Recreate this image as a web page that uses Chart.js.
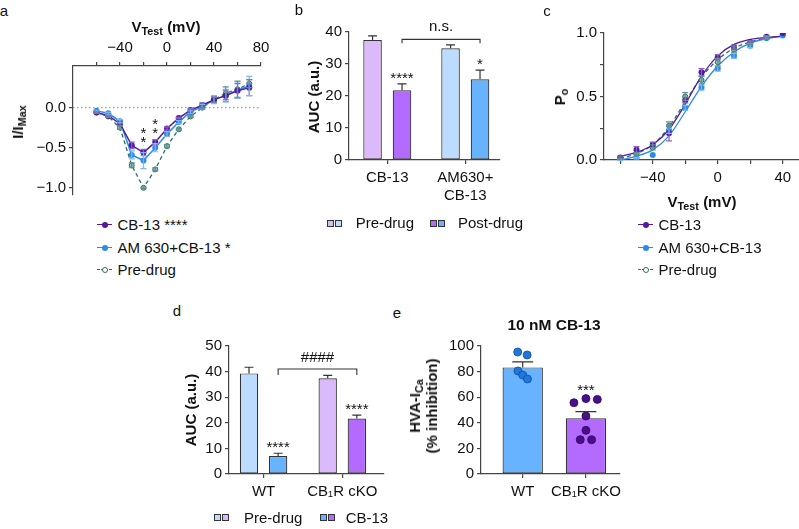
<!DOCTYPE html>
<html>
<head>
<meta charset="utf-8">
<script src="https://cdn.jsdelivr.net/npm/chart.js@4.4.1/dist/chart.umd.min.js"></script>
<style>
  body { margin: 0; background: #fff; }
  #fig { position: relative; width: 799px; height: 529px; overflow: hidden;
         font-family: "Liberation Sans", Arial, sans-serif; color: #111; }
  canvas { position: absolute; }
  .t { position: absolute; white-space: nowrap; font-size: 15px; line-height: 18px;
       transform: translate(-50%, -50%); }
  .b { font-weight: bold; }
  .rot { transform: translate(-50%, -50%) rotate(-90deg); text-align: center; }
  .l { position: absolute; white-space: nowrap; font-size: 15px; line-height: 18px; }
  sub { font-size: 0.72em; vertical-align: -0.3em; line-height: 0; }
  .sq { position: absolute; width: 7px; height: 7px; box-sizing: border-box; border: 1px solid #333; }
</style>
</head>
<body>
<div id="fig">
  <canvas id="ca"></canvas>
  <canvas id="cb"></canvas>
  <canvas id="cc"></canvas>
  <canvas id="cd"></canvas>
  <canvas id="ce"></canvas>

  <!-- panel letters -->
  <div class="t" style="left:4px;top:11px">a</div>
  <div class="t" style="left:299px;top:10px">b</div>
  <div class="t" style="left:547px;top:11px">c</div>
  <div class="t" style="left:177px;top:311px">d</div>
  <div class="t" style="left:397px;top:313px">e</div>

  <!-- axis titles -->
  <div class="t b" style="left:166px;top:27px">V<sub>Test</sub> (mV)</div>
  <div class="t b rot" style="left:18px;top:122px">I/I<sub>Max</sub></div>
  <div class="t b rot" style="left:314px;top:97px">AUC (a.u.)</div>
  <div class="t b rot" style="left:560px;top:97px">P<sub>o</sub></div>
  <div class="t b" style="left:702px;top:202px">V<sub>Test</sub> (mV)</div>
  <div class="t b rot" style="left:191px;top:410px">AUC (a.u.)</div>
  <div class="t b rot" style="left:423px;top:406px;line-height:17px">HVA-I<sub>Ca</sub><br>(% inhibition)</div>
  <div class="t b" style="left:554px;top:325px;font-size:15.5px">10 nM CB-13</div>

  <div id="legends"></div>
</div>

<script>
// ---- data ----
const vTestA = [-60, -50, -40, -30, -20, -10, 0, 10, 20, 30, 40, 50, 60, 70];
const ivCB13 = [-0.06, -0.10, -0.20, -0.47, -0.56, -0.43, -0.26, -0.13, -0.03, 0.03, 0.10, 0.15, 0.21, 0.25];
const ivCB13Err = [0.01, 0.01, 0.02, 0.04, 0.04, 0.03, 0.02, 0.01, 0.02, 0.03, 0.04, 0.07, 0.09, 0.10];
const ivAM = [-0.04, -0.07, -0.17, -0.59, -0.66, -0.50, -0.33, -0.18, -0.05, 0.01, 0.10, 0.15, 0.22, 0.27];
const ivAMErr = [0.01, 0.01, 0.02, 0.05, 0.10, 0.05, 0.03, 0.02, 0.02, 0.03, 0.05, 0.08, 0.10, 0.12];
const ivPre = [-0.06, -0.11, -0.25, -0.72, -1.00, -0.77, -0.48, -0.27, -0.11, 0.00, 0.10, 0.18, 0.23, 0.30];
const ivPreErr = [0.01, 0.01, 0.02, 0.03, 0.01, 0.02, 0.02, 0.01, 0.01, 0.02, 0.03, 0.08, 0.10, 0.05];
const ivStars = ['', '', '', '', '*\n*', '*\n*', '', '', '', '', '', '', '', ''];
const aXTicks = [-60, -40, -20, 0, 20, 40, 60, 80];
const aXLabels = [-40, 0, 40, 80];
const aYTicks = [-1.0, -0.5, 0.0];

const bCats = ['CB-13', ['AM630+', 'CB-13']];
const bPre = [37.5, 34.9];
const bPreErr = [1.3, 1.1];
const bPost = [21.8, 25.2];
const bPostErr = [2.0, 2.9];
const bStars = ['****', '*'];
const bYTicks = [0, 10, 20, 30, 40];

const vTestC = [-60, -50, -40, -30, -20, -10, 0, 10, 20, 30, 40];
const poCB13 = [0.02, 0.08, 0.12, 0.21, 0.47, 0.69, 0.81, 0.89, 0.93, 0.97, 1.00];
const poCB13Err = [0.01, 0.025, 0.02, 0.06, 0.02, 0.03, 0.02, 0.015, 0.01, 0.01, 0];
const poAM = [0.00, 0.015, 0.04, 0.23, 0.41, 0.57, 0.72, 0.82, 0.90, 0.96, 0.98];
const poAMErr = [0.005, 0.005, 0, 0.02, 0.02, 0.02, 0.02, 0.02, 0.015, 0.01, 0];
const poPre = [0.01, 0.05, 0.10, 0.27, 0.50, 0.63, 0.77, 0.87, 0.92, 0.96, 0.99];
const poPreErr = [0.005, 0.01, 0.02, 0.03, 0.03, 0.03, 0.03, 0.02, 0.01, 0.01, 0];
const fitCB13 = [0.03, 0.06, 0.12, 0.24, 0.44, 0.66, 0.82, 0.91, 0.95, 0.965, 0.975];
const fitAM = [0.00, 0.03, 0.08, 0.19, 0.38, 0.58, 0.74, 0.85, 0.92, 0.955, 0.975];
const fitPre = [0.01, 0.05, 0.12, 0.26, 0.46, 0.65, 0.79, 0.88, 0.93, 0.96, 0.975];
const cXTicks = [-60, -40, -20, 0, 20, 40];
const cXLabels = [-40, 0, 40];
const cYTicks = [0, 0.25, 0.5, 0.75, 1.0];
const cYLabels = [0, 0.5, 1.0];

const dCats = ['WT', 'CB\u2081R cKO'];
const dPre = [39.3, 37.4];
const dPreErr = [2.4, 1.1];
const dDrug = [7.0, 21.7];
const dDrugErr = [1.1, 1.3];
const dStars = ['****', '****'];
const dYTicks = [0, 10, 20, 30, 40, 50];

const eCats = ['WT', 'CB\u2081R cKO'];
const eMean = [83.3, 43.5];
const eErr = [4.3, 5.2];
const eWTDots = [95.3, 93.0, 80.5, 77.3, 74.2];
const eWTJitter = [-0.08, 0.07, -0.075, 0.0, 0.075];
const eKODots = [55.7, 58.9, 58.3, 45.3, 34.1, 26.8, 26.8];
const eKOJitter = [-0.19, 0.0, 0.18, 0.0, 0.0, -0.09, 0.09];
const eYTicks = [0, 20, 40, 60, 80, 100];

// ---- style ----
const C = {
  ink: '#111', axis: '#444',
  purpleLine: '#50199e', purpleErr: '#8b62c8',
  blueLine: '#2b8be8', blueErr: '#7ab8f2',
  teal: '#2e6d68', tealErr: '#5f918c', tealFill: '#8fbcb7',
  lightPurple: '#dcb9fb', purple: '#b36bff',
  lightBlue: '#bbdcff', blue: '#67b3ff',
  wtDot: '#1f77dc', koDot: '#4b0d8c', barEdge: '#333'
};
const Y_W = 60, X_H = 50, PAD = 14;
const tickFont = { family: '"Liberation Sans", Arial, sans-serif', size: 15 };
const minus = v => (v < 0 ? '\u2212' : '') + Math.abs(v);

function place(id, L, T, R, B, xTop) {
  const c = document.getElementById(id);
  const w = Math.round((R - L) + Y_W + PAD);
  const h = Math.round((B - T) + X_H + 2 * PAD);
  c.width = w; c.height = h;
  c.style.width = w + 'px'; c.style.height = h + 'px';
  c.style.left = (L - Y_W) + 'px';
  c.style.top = (xTop ? T - PAD - X_H : T - PAD) + 'px';
  return c;
}

function axisBase(ticks, label) {
  return {
    type: 'linear', bounds: 'data',
    afterBuildTicks: s => { s.ticks = ticks.map(v => ({ value: v })); },
    ticks: { font: tickFont, color: C.ink, autoSkip: false, maxRotation: 0, callback: label },
    grid: { drawOnChartArea: false, drawTicks: true, tickLength: 4, color: C.axis, lineWidth: 1.2, offset: false },
    border: { color: C.axis, width: 1.2 }
  };
}
function yAxis(min, max, ticks, label) {
  const a = axisBase(ticks, label);
  a.min = min; a.max = max;
  a.ticks.padding = 3;
  a.afterFit = s => { s.width = Y_W; };
  return a;
}
function xAxis(min, max, ticks, label, pos) {
  const a = axisBase(ticks, label);
  a.min = min; a.max = max; a.offset = false;
  a.position = pos || 'bottom';
  a.ticks.padding = 5;
  a.afterFit = s => { s.height = X_H; };
  return a;
}

// error bars, significance marks, brackets, zero line
const decor = {
  id: 'decor',
  beforeDatasetsDraw(chart, args, opts) {
    if (!opts.zeroLine) return;
    const ctx = chart.ctx, a = chart.chartArea;
    const y = chart.scales.y.getPixelForValue(0);
    ctx.save();
    ctx.strokeStyle = '#8a8a8a'; ctx.lineWidth = 1; ctx.setLineDash([1.5, 2.5]);
    ctx.beginPath(); ctx.moveTo(a.left, y); ctx.lineTo(a.right, y); ctx.stroke();
    ctx.restore();
  },
  afterDatasetsDraw(chart, args, opts) {
    const ctx = chart.ctx, ys = chart.scales.y;
    ctx.save();
    chart.data.datasets.forEach((ds, di) => {
      const meta = chart.getDatasetMeta(di);
      meta.data.forEach((el, i) => {
        const v = ds.data[i].y;
        const e = ds.errors ? ds.errors[i] : 0;
        if (e) {
          const top = ys.getPixelForValue(v + e);
          const bot = ds.errUp ? el.y : ys.getPixelForValue(v - e);
          const cw = (ds.capWidth || 6) / 2;
          ctx.strokeStyle = ds.errColor || C.barEdge;
          ctx.lineWidth = 1.2;
          ctx.beginPath();
          ctx.moveTo(el.x, top); ctx.lineTo(el.x, bot);
          ctx.moveTo(el.x - cw, top); ctx.lineTo(el.x + cw, top);
          if (!ds.errUp) { ctx.moveTo(el.x - cw, bot); ctx.lineTo(el.x + cw, bot); }
          ctx.stroke();
        }
        if (ds.sig && ds.sig[i]) {
          let base = v + (e || 0);
          if (ds.sigFloor && ds.sigFloor[i] != null) base = Math.max(base, ds.sigFloor[i]);
          let yb = ys.getPixelForValue(base) - (ds.sigGap != null ? ds.sigGap : 1);
          ctx.fillStyle = C.ink;
          ctx.font = '15px "Liberation Sans", Arial, sans-serif';
          ctx.textAlign = 'center'; ctx.textBaseline = 'alphabetic';
          ds.sig[i].split('\n').reverse().forEach(line => {
            ctx.fillText(line, el.x, yb);
            yb -= 9;
          });
        }
      });
    });
    (opts.brackets || []).forEach(b => {
      const x1 = chart.getDatasetMeta(b.from[0]).data[b.from[1]].x;
      const x2 = chart.getDatasetMeta(b.to[0]).data[b.to[1]].x;
      const y = ys.getPixelForValue(b.value);
      ctx.strokeStyle = C.barEdge; ctx.lineWidth = 1.1;
      ctx.beginPath();
      ctx.moveTo(x1, y + b.drop); ctx.lineTo(x1, y); ctx.lineTo(x2, y); ctx.lineTo(x2, y + b.drop);
      ctx.stroke();
      ctx.fillStyle = C.ink;
      ctx.font = '15px "Liberation Sans", Arial, sans-serif';
      ctx.textAlign = 'center'; ctx.textBaseline = 'alphabetic';
      ctx.fillText(b.text, (x1 + x2) / 2, y - b.gap);
    });
    ctx.restore();
  }
};
Chart.register(decor);

const base = {
  responsive: false, animation: false, devicePixelRatio: 1,
  layout: { padding: { top: PAD, right: PAD, bottom: PAD, left: 0 } },
  plugins: { legend: { display: false }, tooltip: { enabled: false } }
};
const pts = (xs, ys) => xs.map((x, i) => ({ x, y: ys[i] }));

// ---- a: I-V ----
new Chart(place('ca', 72.5, 66, 260, 195, true), {
  type: 'line',
  data: { datasets: [
    { data: pts(vTestA, ivCB13), errors: ivCB13Err, errColor: C.purpleErr, sig: ivStars, sigGap: 2,
      borderColor: C.purpleLine, backgroundColor: C.purpleLine, borderWidth: 1.5,
      pointRadius: 3, pointBorderWidth: 0 },
    { data: pts(vTestA, ivAM), errors: ivAMErr, errColor: C.blueErr,
      borderColor: C.blueLine, backgroundColor: C.blueLine, borderWidth: 1.5,
      pointRadius: 3, pointBorderWidth: 0 },
    { data: pts(vTestA, ivPre), errors: ivPreErr, errColor: C.tealErr,
      borderColor: C.teal, backgroundColor: C.tealFill, borderWidth: 1.3, borderDash: [4, 3],
      pointRadius: 2.5, pointBorderWidth: 1, pointBorderColor: C.teal }
  ] },
  options: Object.assign({}, base, {
    scales: {
      x: xAxis(-80, 80, aXTicks, v => aXLabels.includes(v) ? minus(v) : '', 'top'),
      y: yAxis(-1.09, 0.52, aYTicks, v => (v < 0 ? '\u2212' : '') + Math.abs(v).toFixed(1))
    },
    plugins: Object.assign({}, base.plugins, { decor: { zeroLine: true } })
  })
});

// ---- b: AUC bars ----
new Chart(place('cb', 349, 32, 500, 160), {
  type: 'bar',
  data: { datasets: [
    { label: 'Pre-drug', data: pts([1, 2], bPre), errors: bPreErr, errUp: true, capWidth: 9,
      backgroundColor: [C.lightPurple, C.lightBlue] },
    { label: 'Post-drug', data: pts([1, 2], bPost), errors: bPostErr, errUp: true, capWidth: 9,
      sig: bStars, sigGap: 1, backgroundColor: [C.purple, C.blue] }
  ].map(d => Object.assign(d, { borderColor: C.barEdge, borderWidth: 1.2, borderSkipped: false,
      categoryPercentage: 0.756, barPercentage: 0.63 })) },
  options: Object.assign({}, base, {
    scales: {
      x: xAxis(0.509, 2.445, [1, 2], v => bCats[Math.round(v) - 1]),
      y: yAxis(0, 40, bYTicks, v => v)
    },
    plugins: Object.assign({}, base.plugins, { decor: {
      brackets: [{ from: [1, 0], to: [1, 1], value: 37.7, drop: 4, text: 'n.s.', gap: 8.7 }] } })
  })
});

// ---- c: Po ----
const fitLine = (xs, ys, col, dash) => ({
  data: pts(xs, ys), borderColor: col, borderWidth: 1.3, borderDash: dash || [],
  pointRadius: 0, tension: 0.4, cubicInterpolationMode: 'monotone'
});
new Chart(place('cc', 604, 32.7, 799, 160), {
  type: 'line',
  data: { datasets: [
    { data: pts(vTestC, poCB13), errors: poCB13Err, errColor: C.purpleErr, showLine: false,
      backgroundColor: C.purpleLine, pointRadius: 3, pointBorderWidth: 0 },
    { data: pts(vTestC, poAM), errors: poAMErr, errColor: C.blueErr, showLine: false,
      backgroundColor: C.blueLine, pointRadius: 3, pointBorderWidth: 0 },
    { data: pts(vTestC, poPre), errors: poPreErr, errColor: C.tealErr, showLine: false,
      backgroundColor: C.tealFill, pointBorderColor: C.teal, pointRadius: 2.5, pointBorderWidth: 1 },
    fitLine(vTestC, fitCB13, C.purpleLine),
    fitLine(vTestC, fitAM, C.blueLine),
    fitLine(vTestC, fitPre, C.teal, [4, 3])
  ] },
  options: Object.assign({}, base, {
    scales: {
      x: xAxis(-70, 50, cXTicks, v => cXLabels.includes(v) ? minus(v) : ''),
      y: yAxis(0, 1, cYTicks, v => cYLabels.includes(v) ? v.toFixed(1) : '')
    }
  })
});

// ---- d: AUC WT vs cKO ----
new Chart(place('cd', 229.3, 346, 384, 474), {
  type: 'bar',
  data: { datasets: [
    { label: 'Pre-drug', data: pts([1, 2], dPre), errors: dPreErr, errUp: true, capWidth: 9,
      backgroundColor: [C.lightBlue, C.lightPurple] },
    { label: 'CB-13', data: pts([1, 2], dDrug), errors: dDrugErr, errUp: true, capWidth: 9,
      sig: dStars, sigGap: 1, backgroundColor: [C.blue, C.purple] }
  ].map(d => Object.assign(d, { borderColor: C.barEdge, borderWidth: 1.2, borderSkipped: false,
      categoryPercentage: 0.74, barPercentage: 0.63 })) },
  options: Object.assign({}, base, {
    scales: {
      x: xAxis(0.561, 2.53, [1, 2], v => dCats[Math.round(v) - 1]),
      y: yAxis(0, 50, dYTicks, v => v)
    },
    plugins: Object.assign({}, base.plugins, { decor: {
      brackets: [{ from: [1, 0], to: [1, 1], value: 41.0, drop: 6, text: '####', gap: 7.4 }] } })
  })
});

// ---- e: % inhibition ----
new Chart(place('ce', 480.7, 346, 620, 474), {
  type: 'bar',
  data: { datasets: [
    { type: 'scatter', data: eWTDots.map((y, i) => ({ x: 1 + eWTJitter[i], y })), order: 0,
      backgroundColor: C.wtDot, borderColor: '#0f4f9e', borderWidth: 0.8, pointRadius: 4 },
    { type: 'scatter', data: eKODots.map((y, i) => ({ x: 2 + eKOJitter[i], y })), order: 0,
      backgroundColor: C.koDot, borderColor: '#2e0660', borderWidth: 0.8, pointRadius: 4 },
    { data: pts([1, 2], eMean), errors: eErr, errUp: true, capWidth: 21, order: 1,
      sig: ['', '***'], sigFloor: [null, Math.max(...eKODots)], sigGap: 3.5,
      backgroundColor: [C.blue, C.purple], borderColor: C.barEdge, borderWidth: 1.2,
      borderSkipped: false, categoryPercentage: 1, barPercentage: 0.638 }
  ] },
  options: Object.assign({}, base, {
    scales: {
      x: xAxis(0.34, 2.539, [1, 2], v => eCats[Math.round(v) - 1]),
      y: yAxis(0, 100, eYTicks, v => v)
    }
  })
});

// ---- legends ----
function lineKey(col, dashed, open) {
  const line = `<i style="position:absolute;left:0;width:15px;top:8px;border-top:1.5px ${dashed ? 'dashed' : 'solid'} ${col}"></i>`;
  const dot = `<i style="position:absolute;left:4.5px;top:6px;width:6px;height:6px;box-sizing:border-box;border-radius:50%;` +
    (open ? `background:#fff;border:1px solid ${col}` : `background:${col}`) + `"></i>`;
  return `<span style="position:absolute;left:0;top:0;width:15px;height:18px">${line}${dot}</span>`;
}
function lineLegend(x, rows) {
  return rows.map(r => `<div class="l" style="left:${x}px;top:${r.y - 9}px;width:200px">` +
    lineKey(r.col, r.dashed, r.open) + `<span style="position:absolute;left:20.5px">${r.text}</span></div>`).join('');
}
function barLegend(x, y, cols, text, gap) {
  return `<div class="sq" style="left:${x}px;top:${y - 3.5}px;background:${cols[0]}"></div>` +
    `<div class="sq" style="left:${x + 7.5}px;top:${y - 3.5}px;background:${cols[1]}"></div>` +
    `<div class="l" style="left:${x + 14.5 + gap}px;top:${y - 9}px">${text}</div>`;
}
document.getElementById('legends').innerHTML =
  lineLegend(97, [
    { y: 225, col: C.purpleLine, text: 'CB-13 ****' },
    { y: 247.7, col: C.blueLine, text: 'AM 630+CB-13 *' },
    { y: 270, col: C.teal, dashed: true, open: true, text: 'Pre-drug' }
  ]) +
  lineLegend(638, [
    { y: 225, col: C.purpleLine, text: 'CB-13' },
    { y: 247.7, col: C.blueLine, text: 'AM 630+CB-13' },
    { y: 270, col: C.teal, dashed: true, open: true, text: 'Pre-drug' }
  ]) +
  barLegend(327, 223, [C.lightPurple, C.lightBlue], 'Pre-drug', 14.2) +
  barLegend(430, 223, [C.purple, C.blue], 'Post-drug', 13.5) +
  barLegend(214, 517.7, [C.lightBlue, C.lightPurple], 'Pre-drug', 15.5) +
  barLegend(320, 517.7, [C.blue, C.purple], 'CB-13', 11.2);
</script>
</body>
</html>
